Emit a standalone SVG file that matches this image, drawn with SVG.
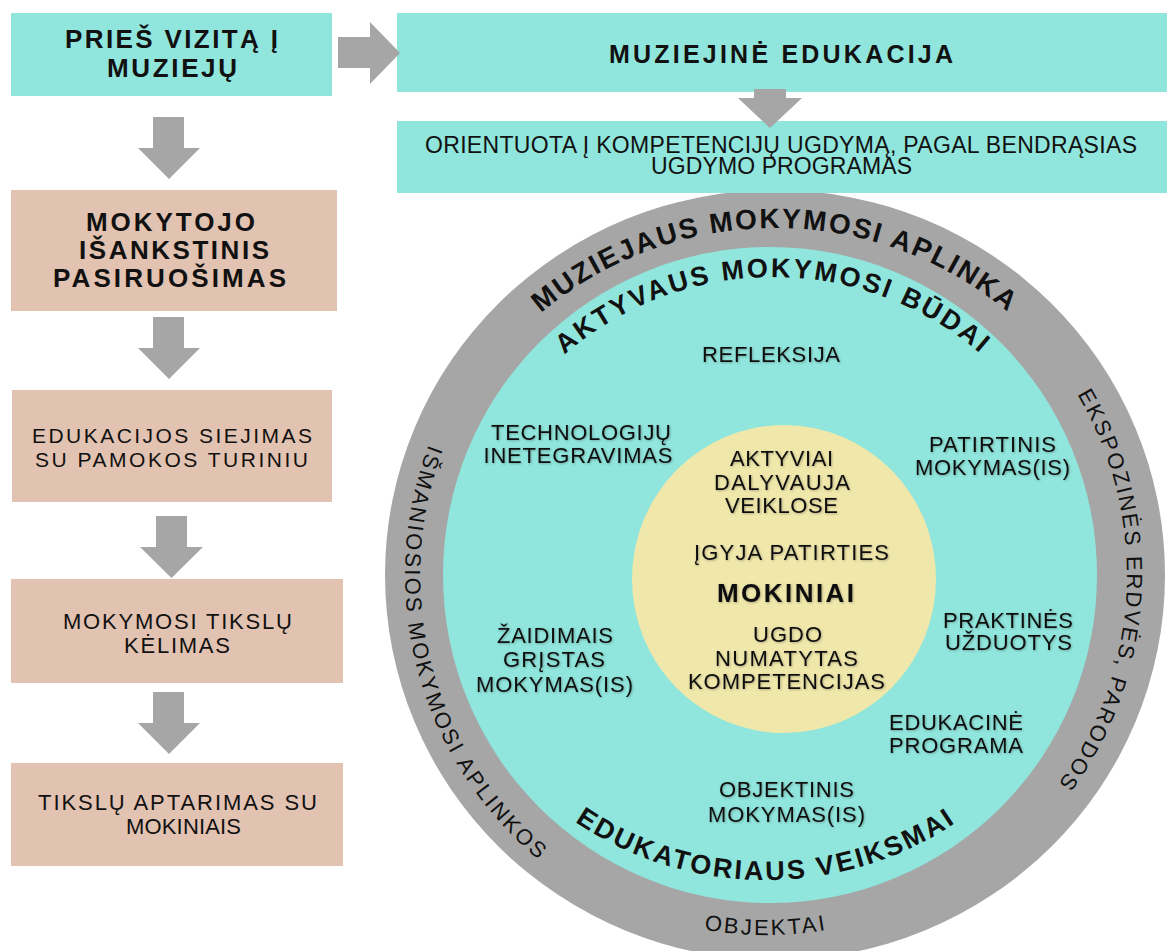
<svg xmlns="http://www.w3.org/2000/svg" width="1167" height="951" viewBox="0 0 1167 951">
<defs>
<style>
text { font-family: "Liberation Sans", Arial, sans-serif; fill: #111; }
.teal { fill: #90E5DC; }
.sal { fill: #E2C2B0; }
.arr { fill: #A6A6A6; }
.ring { fill: #A6A6A6; }
.yel { fill: #F0E7AB; }
.b { font-weight: bold; }
.h26 { font-size: 26px; font-weight: bold; }
.n21 { font-size: 21px; }
.n22 { font-size: 22px; }
.n23 { font-size: 23px; }
.c { text-anchor: middle; }
.sh { filter: url(#shadow); }
</style>
<filter id="shadow" x="-10%" y="-30%" width="120%" height="160%">
<feDropShadow dx="0.8" dy="0.8" stdDeviation="0.8" flood-color="#000" flood-opacity="0.3"/>
</filter>
<path id="pTop" d="M 417 578 A 358 350 0 0 1 1133 578"/>
<path id="pAkt" d="M 462 578 A 311 301 0 0 1 1084 578"/>
<path id="pEdu" d="M 441 575 A 325 305 0 0 0 1091 575"/>
<path id="pObj" d="M 406 575 A 360 360 0 0 0 1126 575"/>
<path id="pLeft" d="M 618.6 239.7 A 370 370 0 0 0 807.2 943.6"/>
<path id="pRight" d="M 853.6 231.9 A 352 352 0 0 1 818.5 924.3"/>
</defs>

<g id="circle-diagram">
<ellipse id="outer-ring" class="ring" cx="775" cy="575" rx="390" ry="385"/>
<ellipse id="inner-teal" class="teal" cx="770" cy="575" rx="327" ry="328"/>
<ellipse id="center-yellow" class="yel" cx="784" cy="579" rx="152" ry="154"/>

<text class="b" font-size="28" letter-spacing="2"><textPath href="#pTop" startOffset="50%" text-anchor="middle">MUZIEJAUS MOKYMOSI APLINKA</textPath></text>
<text class="b" font-size="27" letter-spacing="2.5"><textPath href="#pAkt" startOffset="50%" text-anchor="middle">AKTYVAUS MOKYMOSI BŪDAI</textPath></text>
<text class="b" font-size="27" letter-spacing="2.5"><textPath href="#pEdu" startOffset="50%" text-anchor="middle">EDUKATORIAUS VEIKSMAI</textPath></text>
<text font-size="22" letter-spacing="2.5"><textPath href="#pObj" startOffset="50%" text-anchor="middle">OBJEKTAI</textPath></text>
<text font-size="22" letter-spacing="2.5"><textPath href="#pLeft" startOffset="50%" text-anchor="middle">IŠMANIOSIOS MOKYMOSI APLINKOS</textPath></text>
<text font-size="22" letter-spacing="2.2"><textPath href="#pRight" startOffset="50%" text-anchor="middle">EKSPOZINĖS ERDVĖS, PARODOS</textPath></text>
</g>

<g id="node-refleksija" class="sh"><text class="n22 c" x="771" y="362" textLength="138" lengthAdjust="spacing">REFLEKSIJA</text></g>
<g id="node-technologiju" class="sh">
<text class="n22 c" x="581" y="440" textLength="180" lengthAdjust="spacing">TECHNOLOGIJŲ</text>
<text class="n22 c" x="578" y="463" textLength="189" lengthAdjust="spacing">INETEGRAVIMAS</text>
</g>
<g id="node-patirtinis" class="sh">
<text class="n22 c" x="992.5" y="452" textLength="127" lengthAdjust="spacing">PATIRTINIS</text>
<text class="n22 c" x="992.5" y="475" textLength="155" lengthAdjust="spacing">MOKYMAS(IS)</text>
</g>
<g id="node-praktines" class="sh">
<text class="n22 c" x="1008" y="628" textLength="130" lengthAdjust="spacing">PRAKTINĖS</text>
<text class="n22 c" x="1008.5" y="650" textLength="127" lengthAdjust="spacing">UŽDUOTYS</text>
</g>
<g id="node-edukacine" class="sh">
<text class="n22 c" x="956" y="730" textLength="134" lengthAdjust="spacing">EDUKACINĖ</text>
<text class="n22 c" x="956" y="753" textLength="134" lengthAdjust="spacing">PROGRAMA</text>
</g>
<g id="node-objektinis" class="sh">
<text class="n22 c" x="786.5" y="797" textLength="135" lengthAdjust="spacing">OBJEKTINIS</text>
<text class="n22 c" x="786.5" y="822" textLength="157" lengthAdjust="spacing">MOKYMAS(IS)</text>
</g>
<g id="node-zaidimais" class="sh">
<text class="n22 c" x="555" y="643" textLength="116" lengthAdjust="spacing">ŽAIDIMAIS</text>
<text class="n22 c" x="554" y="667" textLength="102" lengthAdjust="spacing">GRĮSTAS</text>
<text class="n22 c" x="554.5" y="692" textLength="157" lengthAdjust="spacing">MOKYMAS(IS)</text>
</g>
<g id="node-mokiniai" class="sh">
<text class="n22 c" x="781.5" y="466" textLength="103" lengthAdjust="spacing">AKTYVIAI</text>
<text class="n22 c" x="782" y="490" textLength="136" lengthAdjust="spacing">DALYVAUJA</text>
<text class="n22 c" x="781.5" y="513" textLength="113" lengthAdjust="spacing">VEIKLOSE</text>
<text class="n22 c" x="791.5" y="560" textLength="195" lengthAdjust="spacing">ĮGYJA PATIRTIES</text>
<text class="c b" font-size="26" x="785.5" y="602" textLength="137" lengthAdjust="spacing">MOKINIAI</text>
<text class="n22 c" x="787.5" y="642" textLength="69" lengthAdjust="spacing">UGDO</text>
<text class="n22 c" x="786.5" y="666" textLength="143" lengthAdjust="spacing">NUMATYTAS</text>
<text class="n22 c" x="786.5" y="689" textLength="197" lengthAdjust="spacing">KOMPETENCIJAS</text>
</g>

<g id="node-pries-vizita">
<rect class="teal" x="11" y="13" width="321" height="83"/>
<text class="h26 c" x="171.5" y="48" textLength="213" lengthAdjust="spacing">PRIEŠ VIZITĄ Į</text>
<text class="h26 c" x="172" y="77" textLength="130" lengthAdjust="spacing">MUZIEJŲ</text>
</g>
<g id="node-muziejine-edukacija">
<rect class="teal" x="397" y="13" width="770" height="79"/>
<text class="c b" font-size="25" x="781" y="63" textLength="344" lengthAdjust="spacing">MUZIEJINĖ EDUKACIJA</text>
</g>
<g id="node-orientuota">
<rect class="teal" x="397" y="121" width="770" height="72"/>
<text class="n23 c" x="781" y="152.5" textLength="712" lengthAdjust="spacing">ORIENTUOTA Į KOMPETENCIJŲ UGDYMĄ, PAGAL BENDRĄSIAS</text>
<text class="n23 c" x="781.5" y="174" textLength="261" lengthAdjust="spacing">UGDYMO PROGRAMAS</text>
</g>
<g id="node-mokytojo">
<rect class="sal" x="11" y="190" width="326" height="121"/>
<text class="h26 c" x="170.5" y="231" textLength="169" lengthAdjust="spacing">MOKYTOJO</text>
<text class="h26 c" x="174" y="259" textLength="190" lengthAdjust="spacing">IŠANKSTINIS</text>
<text class="h26 c" x="169.5" y="287" textLength="233" lengthAdjust="spacing">PASIRUOŠIMAS</text>
</g>
<g id="node-edukacijos-siejimas">
<rect class="sal" x="12" y="390" width="320" height="112"/>
<text class="n21 c" x="172" y="443" textLength="280" lengthAdjust="spacing">EDUKACIJOS SIEJIMAS</text>
<text class="n21 c" x="171.5" y="467" textLength="273" lengthAdjust="spacing">SU PAMOKOS TURINIU</text>
</g>
<g id="node-tikslu-kelimas">
<rect class="sal" x="11" y="579" width="332" height="104"/>
<text class="n22 c" x="177.5" y="629" textLength="229" lengthAdjust="spacing">MOKYMOSI TIKSLŲ</text>
<text class="n22 c" x="177" y="653" textLength="106" lengthAdjust="spacing">KĖLIMAS</text>
</g>
<g id="node-tikslu-aptarimas">
<rect class="sal" x="11" y="763" width="332" height="103"/>
<text class="n22 c" x="177.5" y="810" textLength="279" lengthAdjust="spacing">TIKSLŲ APTARIMAS SU</text>
<text class="n22 c" x="183.5" y="834" textLength="115" lengthAdjust="spacing">MOKINIAIS</text>
</g>

<g id="connectors">
<path class="arr" d="M338 37 H370 V22 L400 53 L370 84 V68 H338 Z"/>
<path class="arr" d="M754 89 H786 V98 H802 L770 128 L738 98 H754 Z"/>
<path class="arr" d="M153 117 H184 V148 H200 L169 179 L138 148 H153 Z"/>
<path class="arr" d="M153 317 H184 V348 H200 L169 379 L138 348 H153 Z"/>
<path class="arr" d="M156 516 H187 V547 H203 L171.5 578 L140 547 H156 Z"/>
<path class="arr" d="M153 692 H184 V723 H200 L169 754 L138 723 H153 Z"/>
</g>
</svg>
